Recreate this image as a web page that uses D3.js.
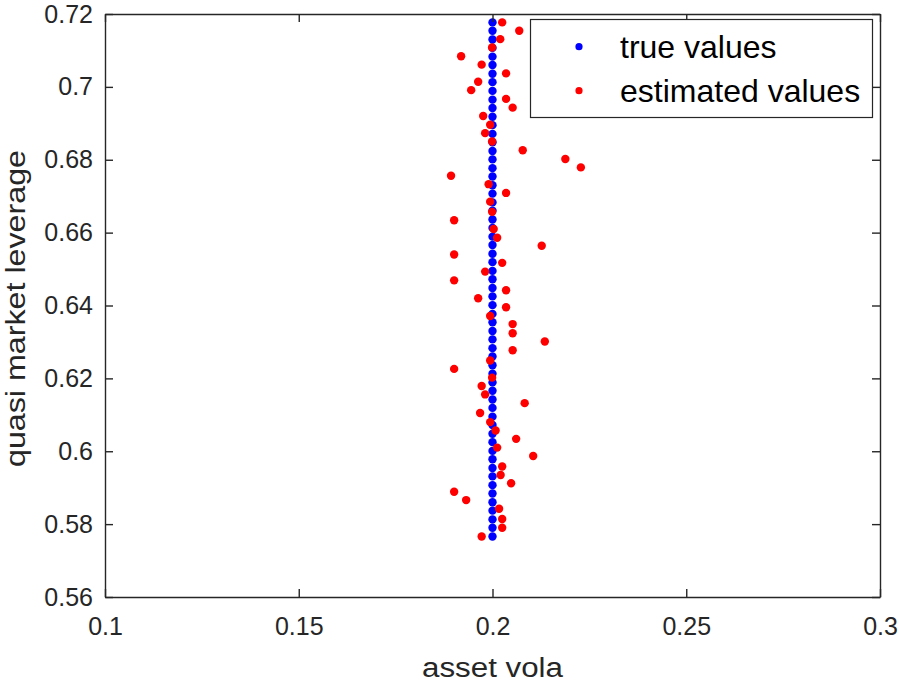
<!DOCTYPE html>
<html>
<head>
<meta charset="utf-8">
<script src="https://cdn.jsdelivr.net/npm/d3@7"></script>
<style>
  html, body { margin: 0; padding: 0; background: #fff; }
  text { font-family: "Liberation Sans", Arial, Helvetica, sans-serif; fill: #262626; }
</style>
</head>
<body>
<div id="chart"></div>
<script>
// ---- data ----
const xTicks = [0.1, 0.15, 0.2, 0.25, 0.3];
const yTicks = [0.56, 0.58, 0.6, 0.62, 0.64, 0.66, 0.68, 0.7, 0.72];
const xTickLabels = ["0.1", "0.15", "0.2", "0.25", "0.3"];
const yTickLabels = ["0.56", "0.58", "0.6", "0.62", "0.64", "0.66", "0.68", "0.7", "0.72"];

const trueVola = 0.2;
const trueLev = [
  0.5766, 0.5790, 0.5813, 0.5837, 0.5860, 0.5884, 0.5907, 0.5931, 0.5954, 0.5978,
  0.6001, 0.6025, 0.6048, 0.6072, 0.6095, 0.6119, 0.6142, 0.6166, 0.6189, 0.6213,
  0.6236, 0.6260, 0.6283, 0.6307, 0.6330, 0.6354, 0.6377, 0.6401, 0.6425, 0.6448,
  0.6472, 0.6495, 0.6519, 0.6542, 0.6566, 0.6589, 0.6613, 0.6636, 0.6660, 0.6683,
  0.6707, 0.6730, 0.6754, 0.6777, 0.6801, 0.6824, 0.6848, 0.6871, 0.6895, 0.6918,
  0.6942, 0.6965, 0.6989, 0.7013, 0.7036, 0.7060, 0.7083, 0.7107, 0.7130, 0.7154,
  0.7177
];

const estVola = [
  0.2025, 0.2069, 0.2020, 0.1999, 0.1919, 0.1972, 0.2035, 0.1963, 0.1945, 0.2035,
  0.2052, 0.1976, 0.1994, 0.1981, 0.1999, 0.2078, 0.2188, 0.2228, 0.1893, 0.1990,
  0.2035, 0.1994, 0.1999, 0.1901, 0.2003, 0.2012, 0.2127, 0.1901, 0.2025, 0.1981,
  0.1901, 0.2035, 0.1963, 0.2035, 0.1994, 0.2052, 0.2052, 0.2135, 0.2052, 0.1994,
  0.1901, 0.1999, 0.1972, 0.1981, 0.2083, 0.1968, 0.1994, 0.2008, 0.2061, 0.2012,
  0.2105, 0.2025, 0.2021, 0.2048, 0.1901, 0.1932, 0.2017, 0.2025, 0.2025, 0.1972
];
const estLev = [
  0.7177, 0.7154, 0.7131, 0.7108, 0.7084, 0.7061, 0.7037, 0.7014, 0.6991, 0.6967,
  0.6943, 0.6920, 0.6896, 0.6873, 0.6850, 0.6826, 0.6802, 0.6779, 0.6756, 0.6733,
  0.6709, 0.6685, 0.6657, 0.6634, 0.6610, 0.6586, 0.6564, 0.6540, 0.6517, 0.6493,
  0.6469, 0.6442, 0.6420, 0.6395, 0.6371, 0.6349, 0.6324, 0.6301, 0.6277, 0.6249,
  0.6226, 0.6202, 0.6179, 0.6156, 0.6132, 0.6105, 0.6080, 0.6057, 0.6034, 0.6010,
  0.5987, 0.5958, 0.5935, 0.5912, 0.5889, 0.5866, 0.5842, 0.5814, 0.5790, 0.5766
];

const legendLabels = ["true values", "estimated values"];
const seriesColors = ["#0000ff", "#ff0000"];

// ---- layout ----
const W = 899, H = 684;
const m = { left: 105, right: 19, top: 14, bottom: 87 };
const iw = W - m.left - m.right, ih = H - m.top - m.bottom;
const axisColor = "#262626";

const svg = d3.select("#chart").append("svg").attr("width", W).attr("height", H);
const g = svg.append("g").attr("transform", `translate(${m.left},${m.top})`);

const x = d3.scaleLinear().domain([0.1, 0.3]).range([0, iw]);
const y = d3.scaleLinear().domain([0.56, 0.72]).range([ih, 0]);

// points
const trueData = trueLev.map(v => ({ x: trueVola, y: v }));
const estData = estVola.map((v, i) => ({ x: v, y: estLev[i] }));

g.append("g").selectAll("circle").data(trueData).join("circle")
  .attr("cx", d => x(d.x)).attr("cy", d => y(d.y)).attr("r", 4.2)
  .attr("fill", seriesColors[0]);
g.append("g").selectAll("circle").data(estData).join("circle")
  .attr("cx", d => x(d.x)).attr("cy", d => y(d.y)).attr("r", 4.2)
  .attr("fill", seriesColors[1]);

// axes
const tickLen = 8;
const fmtX = (d, i) => xTickLabels[i];
const fmtY = (d, i) => yTickLabels[i];

const xAxis = g.append("g").attr("transform", `translate(0,${ih})`)
  .call(d3.axisBottom(x).tickValues(xTicks).tickFormat(fmtX).tickSizeInner(-tickLen).tickSizeOuter(0).tickPadding(20));
const xAxisTop = g.append("g")
  .call(d3.axisTop(x).tickValues(xTicks).tickFormat("").tickSizeInner(-tickLen).tickSizeOuter(0));
const yAxis = g.append("g")
  .call(d3.axisLeft(y).tickValues(yTicks).tickFormat(fmtY).tickSizeInner(-tickLen).tickSizeOuter(0).tickPadding(12));
const yAxisRight = g.append("g").attr("transform", `translate(${iw},0)`)
  .call(d3.axisRight(y).tickValues(yTicks).tickFormat("").tickSizeInner(-tickLen).tickSizeOuter(0));

[xAxis, xAxisTop, yAxis, yAxisRight].forEach(a => {
  a.select(".domain").attr("stroke", axisColor).attr("stroke-width", 1.4);
  a.selectAll(".tick line").attr("stroke", axisColor).attr("stroke-width", 1.4);
  a.selectAll(".tick text").attr("fill", axisColor)
    .style("font-size", "25px").style("font-family", '"Liberation Sans", Arial, sans-serif');
});
xAxis.selectAll(".tick text").attr("dy", "0.71em");

// axis labels
svg.append("text").attr("x", m.left + iw / 2).attr("y", 677)
  .attr("text-anchor", "middle").style("font-size", "27px")
  .attr("textLength", 141).attr("lengthAdjust", "spacingAndGlyphs")
  .text("asset vola");
svg.append("text").attr("transform", `translate(25,${m.top + ih / 2 + 3}) rotate(-90)`)
  .attr("text-anchor", "middle").style("font-size", "27px")
  .attr("textLength", 317).attr("lengthAdjust", "spacingAndGlyphs")
  .text("quasi market leverage");

// legend
const lg = svg.append("g");
lg.append("rect").attr("x", 530.5).attr("y", 19.5).attr("width", 342).attr("height", 98)
  .attr("fill", "#fff").attr("stroke", axisColor).attr("stroke-width", 1.2);
legendLabels.forEach((lab, i) => {
  const cy = 46.7 + i * 44;
  lg.append("circle").attr("cx", 579).attr("cy", cy).attr("r", 3.6).attr("fill", seriesColors[i]);
  lg.append("text").attr("x", 620).attr("y", cy).attr("dy", "0.36em")
    .style("font-size", "32px").style("fill", "#000").text(lab);
});
</script>
</body>
</html>
